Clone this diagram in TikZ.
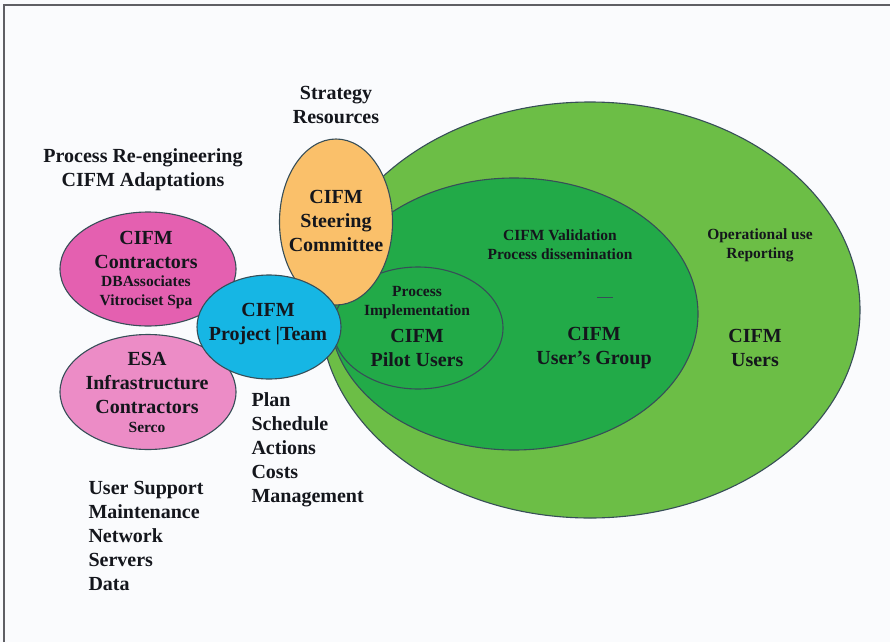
\documentclass[tikz,border=0pt]{standalone}
\usepackage{fontspec}
\setmainfont{Liberation Serif}
\usetikzlibrary{shapes.geometric,positioning}
\definecolor{lawn}{RGB}{108,190,70}
\definecolor{leaf}{RGB}{34,170,72}
\definecolor{amber}{RGB}{250,192,106}
\definecolor{sky}{RGB}{22,182,228}
\definecolor{rose}{RGB}{228,96,176}
\definecolor{blush}{RGB}{236,140,198}
\definecolor{rim}{RGB}{55,78,88}
\definecolor{paper}{RGB}{250,251,253}
\definecolor{frame}{RGB}{95,95,100}
\definecolor{ink}{RGB}{20,22,28}
\begin{document}
\begin{tikzpicture}[x=1pt,y=-1pt,
el/.style={ellipse,draw=rim,line width=1.1pt,inner sep=0pt},
big/.style={align=center,text=ink,font=\fontsize{20}{24}\selectfont\bfseries},
sm/.style={align=center,text=ink,font=\fontsize{15.5}{19}\selectfont\bfseries},
lst/.style={big,align=left,anchor=west}]
\fill[paper] (0,0) rectangle (890,642);
\useasboundingbox (0,0) rectangle (890,642);
\draw[frame,line width=2pt] (4,642) -- (4,5) -- (890,5);
% circles, back to front
\node[el,fill=lawn,minimum width=540,minimum height=416] (users) at (590,310) {};
\node[el,fill=leaf,minimum width=368,minimum height=272] (group) at (514,314) {};
\node[el,fill=leaf,minimum width=170,minimum height=122] (pilot) at (418,328) {};
\node[el,fill=amber,minimum width=113,minimum height=166] (steer) at (336,222) {};
\node[el,fill=rose,minimum width=176,minimum height=114] (contr) at (148,269) {};
\node[el,fill=blush,minimum width=176,minimum height=115] (esa) at (148,392) {};
\node[el,fill=sky,minimum width=144,minimum height=104] (team) at (269,327) {};
\draw[rim,line width=.8pt] (597,297) -- (613,297);
% texts
\node[big] (t-steer) at (336,221) {CIFM\\Steering\\Committee};
\node[big] (t-contr) at (146,250) {CIFM\\Contractors};
\node[sm] (t-dba) at (146,292) {DBAssociates\\Vitrociset Spa};
\node[big] (t-esa) at (147,383) {ESA\\Infrastructure\\Contractors};
\node[sm] (t-serco) at (147,427) {Serco};
\node[big] (t-team) at (268,324) {CIFM\\Project |Team};
\node[sm] (t-impl) at (417,303) {Process\\Implementation};
\node[big] (t-pilot) at (417,348) {CIFM\\Pilot Users};
\node[sm] (t-valid) at (560,245) {CIFM Validation\\Process dissemination};
\node[big] (t-group) at (594,348) {CIFM\\User's Group};
\node[sm] (t-oper) at (760,245) {Operational use\\Reporting};
\node[big] (t-users) at (755,348) {CIFM\\Users};
\node[big] (t-strat) at (336,105) {Strategy\\Resources};
\node[big] (t-proc) at (143,170) {Process Re-engineering\\CIFM Adaptations};
\node[lst] (t-plan) at (248,450) {Plan\\Schedule\\Actions\\Costs\\Management};
\node[lst] (t-supp) at (85,536) {User Support\\Maintenance\\Network\\Servers\\Data};
\end{tikzpicture}
\end{document}
